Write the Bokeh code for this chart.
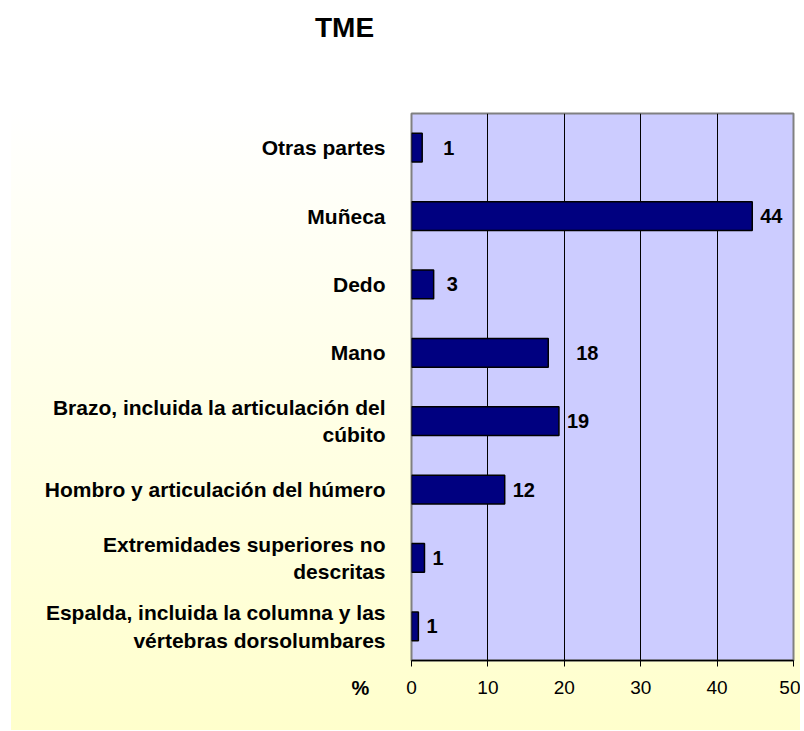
from bokeh.plotting import figure
from bokeh.models import ColumnDataSource, FactorRange, LabelSet, Label, FixedTicker
from bokeh.core.properties import value
from bokeh.embed import file_html
from bokeh.resources import INLINE

# ---- data (top to bottom as in the chart) ----
categories = [
    "Otras partes",
    "Muñeca",
    "Dedo",
    "Mano",
    "Brazo, incluida la articulación del\ncúbito",
    "Hombro y articulación del húmero",
    "Extremidades superiores no\ndescritas",
    "Espalda, incluida la columna y las\nvértebras dorsolumbares",
]
values = [1.4, 44.6, 2.9, 17.9, 19.3, 12.2, 1.7, 0.9]
value_labels = ["1", "44", "3", "18", "19", "12", "1", "1"]
x_ticks = [0, 10, 20, 30, 40, 50]

# style: per-label horizontal offsets (px)
label_offsets = [21, 8, 13, 28, 8, 8, 8, 8]

FONT = "Liberation Sans"

src = ColumnDataSource(dict(cat=categories, val=values, lab=value_labels, off=label_offsets))

p = figure(
    width=800, height=730,
    y_range=FactorRange(factors=list(reversed(categories))),
    x_range=(0, 50),
    output_backend="svg", toolbar_location=None,
    min_border_left=411, min_border_right=7, min_border_top=113, min_border_bottom=70,
)
p.styles = {
    "background-image": "linear-gradient(to bottom, #ffffff 0%, #ffffff 10%, #ffffcc 100%)",
    "background-repeat": "no-repeat",
    "background-position": "11px 40px",
    "background-size": "calc(100% - 11px) calc(100% - 40px)",
}
p.border_fill_color = None
p.background_fill_color = "#CCCCFF"
p.outline_line_color = "#808080"
p.outline_line_width = 2

p.hbar(y="cat", right="val", height=0.42, source=src,
       fill_color="#000080", line_color="black", line_width=1.5)

# axes
xa = p.xaxis[0]
xa.ticker = FixedTicker(ticks=x_ticks)
xa.axis_line_color = "black"
xa.axis_line_width = 1.5
xa.major_tick_line_color = "black"
xa.major_tick_out = 6
xa.major_tick_in = 0
xa.minor_tick_line_color = None
xa.major_label_text_font = FONT
xa.major_label_text_font_size = "19px"
xa.major_label_text_color = "black"
xa.major_label_standoff = 14

ya = p.yaxis[0]
ya.axis_line_color = None
ya.major_tick_line_color = None
ya.minor_tick_line_color = None
ya.major_label_text_font = FONT
ya.major_label_text_font_size = "21px"
ya.major_label_text_font_style = "bold"
ya.major_label_text_color = "black"
ya.major_label_standoff = 20

p.xgrid.grid_line_color = "black"
p.xgrid.grid_line_width = 1
p.ygrid.grid_line_color = None

labels = LabelSet(x="val", y="cat", text="lab", x_offset="off", source=src,
                  text_font=value(FONT), text_font_size=value("20px"),
                  text_font_style=value("bold"),
                  text_color="black", text_baseline="middle", text_align="left")
p.add_layout(labels)

# texts outside the frame live in side panels (not clipped there)
p.add_layout(Label(x=-51, y=31, x_units="screen", y_units="screen", text="%",
                   text_font=FONT, text_font_size="20px", text_font_style="bold",
                   text_color="black", text_align="center", text_baseline="middle"), "below")
p.add_layout(Label(x=-67, y=86, x_units="screen", y_units="screen", text="TME",
                   text_font=FONT, text_font_size="28px", text_font_style="bold",
                   text_color="black", text_align="center", text_baseline="middle"), "above")

open("out.html", "w").write(file_html(p, INLINE))
